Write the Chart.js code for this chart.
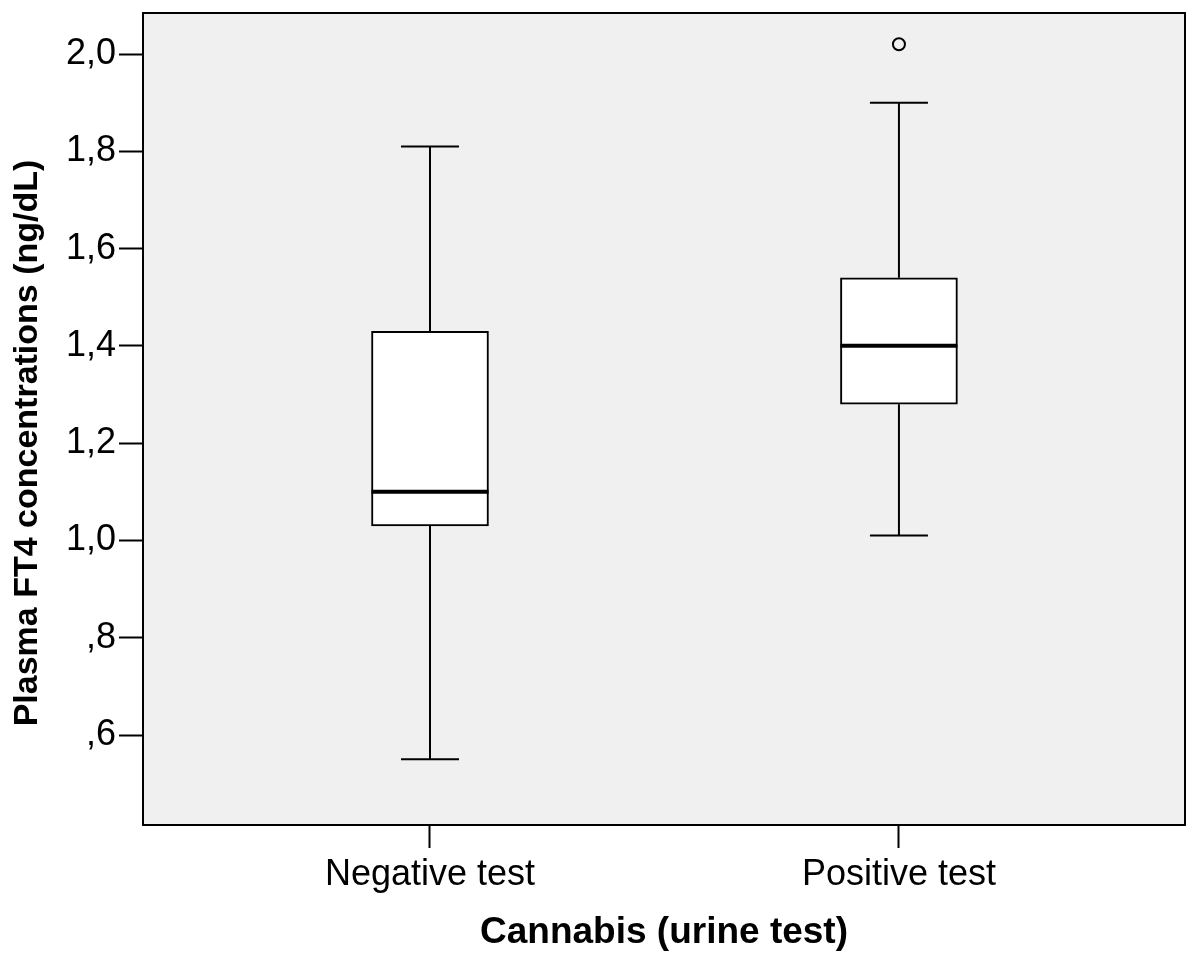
<!DOCTYPE html>
<html>
<head>
<meta charset="utf-8">
<title>Plasma FT4 by cannabis urine test</title>
<script src="https://cdn.jsdelivr.net/npm/chart.js@4.4.1/dist/chart.umd.min.js"></script>
<style>
  html, body { margin: 0; padding: 0; background: #fff; }
  canvas { display: block; }
</style>
</head>
<body>
<canvas id="boxChart" width="1200" height="965"></canvas>
<script>
// ─── Data ───
const categories = ['Negative test', 'Positive test'];
const whiskerLow = [0.55, 1.01];
const quartile1 = [1.03, 1.28];
const medians = [1.10, 1.40];
const quartile3 = [1.43, 1.54];
const whiskerHigh = [1.81, 1.90];
const outliers = [[], [2.02]];
const yTicks = [0.6, 0.8, 1.0, 1.2, 1.4, 1.6, 1.8, 2.0];

const FONT = "'Liberation Sans', Arial, Helvetica, sans-serif";
const Y_TITLE = 'Plasma FT4 concentrations (ng/dL)';

// decimal comma, no leading zero (",8")
const fmtTick = v => v.toFixed(1).replace('.', ',').replace(/^0/, '');

// grey plot background + black frame
const plotFrame = {
  id: 'plotFrame',
  beforeDraw(chart) {
    const { ctx, chartArea: a } = chart;
    ctx.save();
    ctx.fillStyle = '#f0f0f0';
    ctx.fillRect(a.left, a.top, a.right - a.left, a.bottom - a.top);
    ctx.restore();
  },
  afterDraw(chart) {
    const { ctx, chartArea: a } = chart;
    ctx.save();
    ctx.strokeStyle = '#000';
    ctx.lineWidth = 2;
    ctx.strokeRect(a.left, a.top, a.right - a.left, a.bottom - a.top);
    ctx.restore();
  },
};

// y title sits a bit below the axis middle in the original, so draw it by hand
const yAxisTitle = {
  id: 'yAxisTitle',
  afterDraw(chart) {
    const { ctx, chartArea: a } = chart;
    ctx.save();
    ctx.translate(28, (a.top + a.bottom) / 2 + 24);
    ctx.rotate(-Math.PI / 2);
    ctx.font = `bold 34px ${FONT}`;
    ctx.fillStyle = '#000';
    ctx.textAlign = 'center';
    ctx.textBaseline = 'middle';
    ctx.fillText(Y_TITLE, 0, 0);
    ctx.restore();
  },
};

// whiskers, caps and median lines, placed through the chart scales
const boxWhiskers = {
  id: 'boxWhiskers',
  afterDatasetsDraw(chart) {
    const { ctx, scales: { x, y } } = chart;
    const bars = chart.getDatasetMeta(0).data;
    const capHalf = 29;
    ctx.save();
    ctx.strokeStyle = '#000';
    ctx.lineCap = 'butt';
    const seg = (x1, y1, x2, y2, w) => {
      ctx.lineWidth = w;
      ctx.beginPath();
      ctx.moveTo(x1, y1);
      ctx.lineTo(x2, y2);
      ctx.stroke();
    };
    categories.forEach((c, i) => {
      const px = x.getPixelForValue(i + 1);
      const yLo = y.getPixelForValue(whiskerLow[i]);
      const yQ1 = y.getPixelForValue(quartile1[i]);
      const yQ3 = y.getPixelForValue(quartile3[i]);
      const yHi = y.getPixelForValue(whiskerHigh[i]);
      seg(px, yQ1, px, yLo, 2);
      seg(px, yQ3, px, yHi, 2);
      seg(px - capHalf, yLo, px + capHalf, yLo, 2);
      seg(px - capHalf, yHi, px + capHalf, yHi, 2);
      const bar = bars[i];
      const yMed = y.getPixelForValue(medians[i]);
      seg(bar.x - bar.width / 2, yMed, bar.x + bar.width / 2, yMed, 4);
    });
    ctx.restore();
  },
};

const outlierPoints = [];
outliers.forEach((list, i) => list.forEach(v => outlierPoints.push({ x: i + 1, y: v })));

new Chart(document.getElementById('boxChart'), {
  type: 'bar',
  data: {
    datasets: [
      {
        data: categories.map((c, i) => ({ x: i + 1, y: [quartile1[i], quartile3[i]] })),
        backgroundColor: '#fff',
        borderColor: '#000',
        borderWidth: 2,
        borderSkipped: false,
        barThickness: 117,
      },
      {
        type: 'scatter',
        data: outlierPoints,
        pointStyle: 'circle',
        pointRadius: 6,
        borderColor: '#000',
        borderWidth: 2,
        backgroundColor: 'rgba(0,0,0,0)',
      },
    ],
  },
  options: {
    responsive: false,
    animation: false,
    layout: { padding: { top: 13, right: 15, left: 0, bottom: 0 } },
    plugins: { legend: { display: false }, tooltip: { enabled: false } },
    scales: {
      x: {
        type: 'linear',
        offset: false,
        min: 0.388,
        max: 2.61,
        afterBuildTicks: s => { s.ticks = categories.map((c, i) => ({ value: i + 1 })); },
        afterFit: s => { s.height = 140; s.paddingLeft = 0; s.paddingRight = 0; },
        ticks: {
          callback: v => categories[v - 1],
          color: '#000',
          font: { family: FONT, size: 36 },
          padding: 5,
          autoSkip: false,
          maxRotation: 0,
        },
        grid: { offset: false, drawOnChartArea: false, drawTicks: true, tickLength: 23, tickColor: '#000', tickWidth: 2 },
        border: { display: true, color: '#000', width: 2 },
        title: {
          display: true,
          text: 'Cannabis (urine test)',
          color: '#000',
          font: { family: FONT, size: 37, weight: 'bold' },
          padding: { top: 0, bottom: 10 },
        },
      },
      y: {
        min: 0.415,
        max: 2.0843,
        afterBuildTicks: s => { s.ticks = yTicks.map(v => ({ value: v })); },
        afterFit: s => { s.width = 143; s.paddingTop = 0; s.paddingBottom = 0; },
        ticks: {
          callback: v => fmtTick(v),
          color: '#000',
          font: { family: FONT, size: 36 },
          padding: 3,
        },
        grid: { drawOnChartArea: false, drawTicks: true, tickLength: 24, tickColor: '#000', tickWidth: 2 },
        border: { display: true, color: '#000', width: 2 },
        title: { display: false },
      },
    },
  },
  plugins: [plotFrame, boxWhiskers, yAxisTitle],
});
</script>
</body>
</html>
